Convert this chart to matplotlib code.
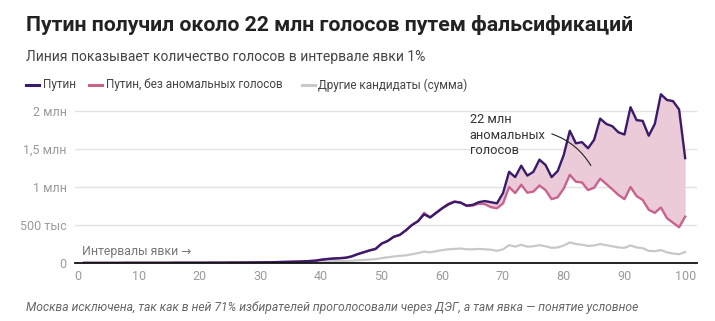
import numpy as np
import matplotlib
matplotlib.use("Agg")
import matplotlib.pyplot as plt

plt.rcParams['font.family'] = ['Roboto', 'DejaVu Sans']

# turnout interval, %
turnout = list(range(1, 101))

# votes, millions
putin = [0.001, 0.001, 0.001, 0.001, 0.001, 0.001, 0.001, 0.002, 0.002, 0.002,
         0.002, 0.002, 0.002, 0.002, 0.002, 0.003, 0.003, 0.003, 0.003, 0.003,
         0.003, 0.004, 0.004, 0.004, 0.005, 0.005, 0.006, 0.006, 0.007, 0.008,
         0.009, 0.010, 0.012, 0.014, 0.016, 0.018, 0.021, 0.025, 0.030, 0.042,
         0.052, 0.058, 0.063, 0.068, 0.085, 0.115, 0.140, 0.165, 0.185, 0.255,
         0.29, 0.345, 0.37, 0.43, 0.50, 0.55, 0.64, 0.60, 0.66, 0.72,
         0.77, 0.805, 0.795, 0.755, 0.765, 0.80, 0.815, 0.80, 0.785, 0.92,
         1.20, 1.13, 1.28, 1.15, 1.20, 1.36, 1.29, 1.13, 1.21, 1.42,
         1.74, 1.575, 1.59, 1.51, 1.62, 1.90, 1.83, 1.80, 1.72, 1.69,
         2.05, 1.88, 1.87, 1.675, 1.83, 2.22, 2.145, 2.13, 2.02, 1.38]

putin_clean = [0.001, 0.001, 0.001, 0.001, 0.001, 0.001, 0.001, 0.002, 0.002, 0.002,
               0.002, 0.002, 0.002, 0.002, 0.002, 0.003, 0.003, 0.003, 0.003, 0.003,
               0.003, 0.004, 0.004, 0.004, 0.005, 0.005, 0.006, 0.006, 0.007, 0.008,
               0.009, 0.010, 0.012, 0.014, 0.016, 0.018, 0.021, 0.025, 0.030, 0.042,
               0.052, 0.058, 0.063, 0.068, 0.085, 0.115, 0.140, 0.165, 0.185, 0.255,
               0.29, 0.345, 0.37, 0.43, 0.50, 0.55, 0.66, 0.60, 0.665, 0.725,
               0.78, 0.81, 0.795, 0.75, 0.755, 0.78, 0.775, 0.735, 0.72, 0.785,
               1.0, 0.92, 1.03, 0.925, 0.94, 1.02, 0.96, 0.84, 0.865, 0.98,
               1.16, 1.07, 1.06, 0.96, 0.99, 1.11, 1.04, 0.97, 0.895, 0.84,
               1.0, 0.88, 0.83, 0.70, 0.66, 0.73, 0.59, 0.53, 0.47, 0.61]

others = [0.000, 0.000, 0.000, 0.000, 0.000, 0.000, 0.001, 0.001, 0.001, 0.001,
          0.001, 0.001, 0.001, 0.001, 0.002, 0.002, 0.002, 0.002, 0.002, 0.002,
          0.003, 0.003, 0.003, 0.003, 0.003, 0.004, 0.004, 0.004, 0.005, 0.005,
          0.006, 0.007, 0.008, 0.009, 0.010, 0.012, 0.014, 0.016, 0.018, 0.020,
          0.022, 0.024, 0.026, 0.028, 0.030, 0.035, 0.040, 0.045, 0.050, 0.065,
          0.075, 0.085, 0.095, 0.10, 0.115, 0.13, 0.15, 0.14, 0.155, 0.17,
          0.18, 0.185, 0.19, 0.18, 0.18, 0.185, 0.18, 0.175, 0.16, 0.18,
          0.235, 0.215, 0.24, 0.215, 0.22, 0.235, 0.22, 0.20, 0.205, 0.23,
          0.27, 0.25, 0.24, 0.225, 0.23, 0.25, 0.235, 0.22, 0.205, 0.20,
          0.23, 0.205, 0.195, 0.16, 0.155, 0.17, 0.14, 0.125, 0.115, 0.145]

y_ticks = [0, 0.5, 1, 1.5, 2]
y_labels = ['0', '500 тыс', '1 млн', '1,5 млн', '2 млн']
x_ticks = list(range(0, 101, 10))

c_putin = '#3a1a6b'
c_clean = '#c9628f'
c_fill = '#eccbd9'
c_other = '#c8c8c8'

fig = plt.figure(figsize=(7.15, 3.21), dpi=100)
ax = fig.add_axes([75 / 715, 1 - 263 / 321, 621.7 / 715, 174.8 / 321])

ax.fill_between(turnout, putin_clean, putin, color=c_fill, lw=0)
ax.plot(turnout, others, color=c_other, lw=1.6)
ax.plot(turnout, putin_clean, color=c_clean, lw=1.7)
ax.plot(turnout, putin, color=c_putin, lw=1.7)

ax.set_xlim(-0.5, 101.9)
ax.set_ylim(0, 2.3)
ax.set_yticks(y_ticks)
ax.set_yticklabels(y_labels)
ax.set_xticks(x_ticks)
ax.tick_params(length=0, labelsize=9, labelcolor='#9a9a9a')
ax.tick_params(axis='x', pad=5)
ax.tick_params(axis='y', pad=6)
ax.grid(axis='y', color='#e2e2e2', lw=1)
ax.set_axisbelow(True)
for s in ['top', 'right', 'left']:
    ax.spines[s].set_visible(False)
ax.spines['bottom'].set_color('#111111')
ax.spines['bottom'].set_linewidth(1.3)
ax.spines['bottom'].set_zorder(5)

ax.text(0.7, 0.07, 'Интервалы явки →', fontsize=8.8, color='#777777', va='bottom')

ax.text(64.5, 1.97, '22 млн\nаномальных\nголосов', fontsize=9.2, color='#333333',
        va='top', ha='left', linespacing=1.25)
ax.annotate('', xy=(84.7, 1.25), xytext=(77.6, 1.71),
            arrowprops=dict(arrowstyle='-', color='#222222', lw=0.8,
                            connectionstyle='arc3,rad=-0.2'))

fig.text(26 / 715, 1 - 31 / 321, 'Путин получил около 22 млн голосов путем фальсификаций',
         fontsize=15.3, fontweight='bold', color='#222222', va='baseline')
fig.text(26 / 715, 1 - 61 / 321, 'Линия показывает количество голосов в интервале явки 1%',
         fontsize=10, color='#444444', va='baseline')

# legend
leg_items = [(26, 'Путин', c_putin, 43), (89, 'Путин, без аномальных голосов', c_clean, 106),
             (302, 'Другие кандидаты (сумма)', c_other, 318)]
for x0, label, col, tx in leg_items:
    fig.add_artist(plt.Line2D([x0 / 715, (x0 + 13) / 715], [1 - 85 / 321, 1 - 85 / 321],
                              color=col, lw=2.2, transform=fig.transFigure))
    fig.text(tx / 715, 1 - 85 / 321, label, fontsize=8.5, color='#444444', va='center')

fig.text(26 / 715, 1 - 311 / 321,
         'Москва исключена, так как в ней 71% избирателей проголосовали через ДЭГ, а там явка — понятие условное',
         fontsize=8.7, style='italic', color='#666666', va='baseline')

fig.savefig('out.png', dpi=100)
